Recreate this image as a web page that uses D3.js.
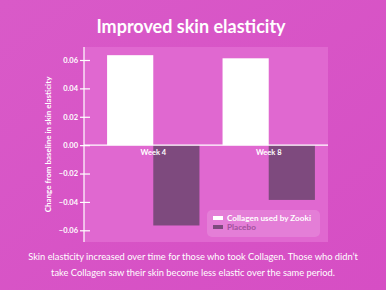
<!DOCTYPE html>
<html>
<head>
<meta charset="utf-8">
<script src="https://cdn.jsdelivr.net/npm/d3@7"></script>
<style>
body { margin: 0; overflow: hidden; }
svg { display: block; }
</style>
</head>
<body>
<script>
var w = 386;
var h = 290;

var weeks = ["Week 4", "Week 8"];
var seriesNames = ["Collagen used by Zooki", "Placebo"];
var collagen = [0.0634, 0.0612];
var placebo = [-0.0566, -0.0386];
var yTicks = [0.06, 0.04, 0.02, 0.00, -0.02, -0.04, -0.06];

var colors = ["#ffffff", "#7e4a7e"];

var svg = d3.select("body")
    .append("svg")
    .attr("width", w)
    .attr("height", h);

var defs = svg.append("defs");
var grad = defs.append("linearGradient")
    .attr("id", "bg")
    .attr("x1", "0%").attr("y1", "0%")
    .attr("x2", "100%").attr("y2", "100%");
grad.append("stop").attr("offset", "0%").attr("stop-color", "#d95ac8");
grad.append("stop").attr("offset", "100%").attr("stop-color", "#d64ec4");

svg.append("rect")
    .attr("width", w)
    .attr("height", h)
    .attr("fill", "url(#bg)");

var pLeft = 84, pRight = 328, pTop = 47, pBottom = 242;

var yScale = d3.scaleLinear()
    .domain([0.06, -0.06])
    .range([60, 230.3]);

var xScale = d3.scaleBand()
    .domain(weeks)
    .range([pLeft, 338])
    .paddingInner(0.2)
    .paddingOuter(0.2);

var xSub = d3.scaleBand()
    .domain([0, 1])
    .range([0, xScale.bandwidth()]);

// plot panel
svg.append("rect")
    .attr("x", pLeft)
    .attr("y", pTop)
    .attr("width", pRight - pLeft)
    .attr("height", pBottom - pTop)
    .attr("fill", "#e068d0");

// bars
var rows = weeks.map((wk, i) => ({week: wk, vals: [collagen[i], placebo[i]]}));

var groups = svg.selectAll("g.grp")
    .data(rows)
    .enter()
    .append("g")
    .attr("class", "grp")
    .attr("transform", d => `translate(${xScale(d.week)},0)`);

groups.selectAll("rect")
    .data(d => d.vals)
    .enter()
    .append("rect")
    .attr("x", (d, i) => xSub(i))
    .attr("width", xSub.bandwidth())
    .attr("y", d => yScale(Math.max(0, d)))
    .attr("height", d => Math.abs(yScale(d) - yScale(0)))
    .attr("fill", (d, i) => colors[i]);

// zero line
svg.append("line")
    .attr("x1", pLeft)
    .attr("x2", pRight)
    .attr("y1", yScale(0))
    .attr("y2", yScale(0))
    .attr("stroke", "#ffffff")
    .attr("stroke-width", 1.2);

// week labels
svg.selectAll("text.wk")
    .data(weeks)
    .enter()
    .append("text")
    .attr("class", "wk")
    .attr("x", d => xScale(d) + xScale.bandwidth() / 2)
    .attr("y", yScale(0) + 10)
    .attr("text-anchor", "middle")
    .attr("font-family", "Lato")
    .attr("font-weight", "bold")
    .attr("font-size", 7.5)
    .attr("fill", "#ffffff")
    .text(d => d);

// y axis
var yAxis = d3.axisLeft()
    .scale(yScale)
    .tickValues(yTicks)
    .tickFormat(d3.format(".2f"))
    .tickSize(4);

var gy = svg.append("g")
    .attr("transform", `translate(${pLeft},0)`)
    .call(yAxis);
gy.select(".domain")
    .attr("d", `M0,${pTop}V${pBottom}`)
    .attr("stroke", "#ffffff")
    .attr("stroke-width", 1.2);
gy.selectAll(".tick line")
    .attr("x1", -4)
    .attr("x2", 6)
    .attr("stroke", "#ffffff")
    .attr("stroke-width", 1.2);
gy.selectAll(".tick text")
    .attr("x", -6)
    .attr("fill", "#ffffff")
    .attr("font-family", "Lato")
    .attr("font-weight", "bold")
    .attr("font-size", 7.5);

svg.append("text")
    .attr("transform", `translate(51,${(pTop + pBottom) / 2}) rotate(-90)`)
    .attr("text-anchor", "middle")
    .attr("font-family", "Lato")
    .attr("font-weight", "bold")
    .attr("font-size", 8)
    .attr("fill", "#ffffff")
    .text("Change from baseline in skin elasticity");

// title
svg.append("text")
    .attr("x", 191)
    .attr("y", 33)
    .attr("text-anchor", "middle")
    .attr("font-family", "Lato")
    .attr("font-weight", "bold")
    .attr("font-size", 18)
    .attr("fill", "#ffffff")
    .text("Improved skin elasticity");

// legend
var lg = svg.append("g").attr("transform", "translate(207,210)");
lg.append("rect")
    .attr("width", 113)
    .attr("height", 27)
    .attr("rx", 5)
    .attr("fill", "#ffffff")
    .attr("fill-opacity", 0.15);
lg.selectAll("rect.sw")
    .data(seriesNames)
    .enter()
    .append("rect")
    .attr("class", "sw")
    .attr("x", 6)
    .attr("y", (d, i) => 6 + i * 9)
    .attr("width", 10)
    .attr("height", 4)
    .attr("fill", (d, i) => colors[i]);
lg.selectAll("text")
    .data(seriesNames)
    .enter()
    .append("text")
    .attr("x", 20)
    .attr("y", (d, i) => 11 + i * 9)
    .attr("font-family", "Lato")
    .attr("font-weight", "bold")
    .attr("font-size", 8.2)
    .attr("fill", (d, i) => i === 0 ? "#ffffff" : "#a2529c")
    .text(d => d);

// caption
var caption = [
    "Skin elasticity increased over time for those who took Collagen. Those who didn\u2019t",
    "take Collagen saw their skin become less elastic over the same period."
];
svg.selectAll("text.cap")
    .data(caption)
    .enter()
    .append("text")
    .attr("class", "cap")
    .attr("x", 193)
    .attr("y", (d, i) => 260 + i * 15.5)
    .attr("text-anchor", "middle")
    .attr("font-family", "Lato")
    .attr("font-size", 9.3)
    .attr("fill", "#ffffff")
    .text(d => d);
</script>
</body>
</html>
